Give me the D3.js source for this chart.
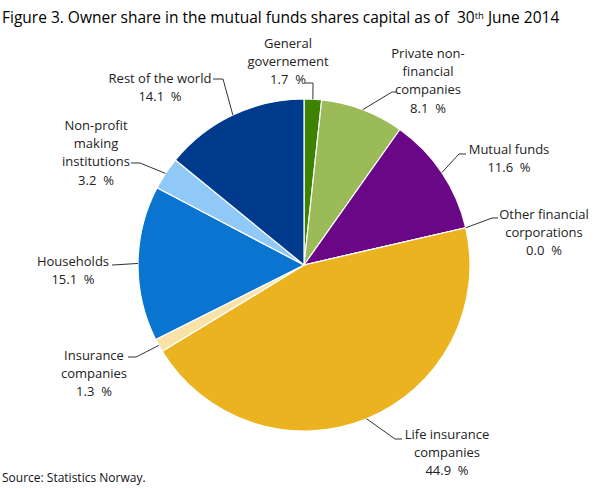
<!DOCTYPE html>
<html lang="en">
<head>
  <meta charset="UTF-8">
  <title>Figure 3</title>
  <style>
    body { margin: 0; background: #fff; }
    text { font-family: 'Open Sans', sans-serif; }
  </style>
</head>
<body>
  <svg id="svg" width="608" height="489"></svg>
  <script src="https://d3js.org/d3.v7.min.js"></script>
  <script>
    // owner sectors, clockwise from 12 o'clock
    const sectors = [
      'General governement', 'Private non-financial companies', 'Mutual funds',
      'Other financial corporations', 'Life insurance companies', 'Insurance companies',
      'Households', 'Non-profit making institutions', 'Rest of the world'
    ]
    const shares = [1.7, 8.1, 11.6, 0.0, 44.9, 1.3, 15.1, 3.2, 14.1]
    const labelLines = [
      ['General', 'governement'],
      ['Private non-', 'financial', 'companies'],
      ['Mutual funds'],
      ['Other financial', 'corporations'],
      ['Life insurance', 'companies'],
      ['Insurance', 'companies'],
      ['Households'],
      ['Non-profit', 'making', 'institutions'],
      ['Rest of the world']
    ]
    const colors = ['#3d8200', '#9bbb59', '#6a0787', '#ecb320', '#ecb320',
                    '#f8e2a8', '#0a74d1', '#90c8f8', '#003a8c']

    // label layout: elbow of leader line, end of horizontal stub, text centre, first line y
    const labelLayout = [
      { ex: 313, ey: 83, hx: 305, tx: 288, ty: 43 },
      { ex: 392, ey: 92, hx: 396, tx: 428, ty: 53 },
      { ex: 459, ey: 154, hx: 466, tx: 509, ty: 149 },
      { ex: 492, ey: 218, hx: 498, tx: 544, ty: 214 },
      { ex: 395, ey: 439, hx: 402, tx: 447, ty: 434 },
      { ex: 136, ey: 357, hx: 128, tx: 94, ty: 355 },
      { ex: 113, ey: 265, hx: 112, tx: 73, ty: 261 },
      { ex: 140, ey: 163, hx: 131, tx: 96, ty: 125 },
      { ex: 223, ey: 79, hx: 213, tx: 160, ty: 78 }
    ]

    const cx = 304, cy = 265, radius = 166
    const lineH = 18.3

    const svg = d3.select('#svg')

    svg.append('text')
      .attr('x', 2)
      .attr('y', 23)
      .style('font-size', '15.5px')
      .style('fill', '#000')
      .attr('xml:space', 'preserve')
      .style('white-space', 'pre')
      .text('Figure 3. Owner share in the mutual funds shares capital as of  30')
      .append('tspan')
      .attr('dy', -4)
      .style('font-size', '9.5px')
      .text('th')
      .select(function () { return this.parentNode })
      .append('tspan')
      .attr('dy', 4)
      .text(' June 2014')

    const data = sectors.map((s, i) => ({ sector: s, share: shares[i], lines: labelLines[i], i }))

    const pie = d3.pie()
      .value(d => d.share)
      .sort(null)

    const arc = d3.arc()
      .innerRadius(0)
      .outerRadius(radius)

    const arcs = pie(data)

    const g = svg.append('g')
      .attr('transform', `translate(${cx},${cy})`)

    g.selectAll('path')
      .data(arcs)
      .enter()
      .append('path')
      .attr('d', arc)
      .attr('fill', d => colors[d.data.i])
      .attr('stroke', '#fff')
      .attr('stroke-width', 1.2)
      .attr('stroke-linejoin', 'round')

    // leader lines start on the rim at each slice's mid angle
    svg.selectAll('path.leader')
      .data(arcs)
      .enter()
      .append('path')
      .attr('class', 'leader')
      .attr('d', d => {
        const a = (d.startAngle + d.endAngle) / 2
        const L = labelLayout[d.data.i]
        const x1 = cx + Math.sin(a) * radius
        const y1 = cy - Math.cos(a) * radius
        return d3.line()([[x1, y1], [L.ex, L.ey], [L.hx, L.ey]])
      })
      .attr('stroke', '#333')
      .attr('stroke-width', 1)
      .attr('fill', 'none')

    const labels = svg.selectAll('text.lab')
      .data(data)
      .enter()
      .append('text')
      .attr('class', 'lab')
      .attr('text-anchor', 'middle')
      .style('font-size', '13px')
      .style('fill', '#222')

    labels.each(function (d) {
      const L = labelLayout[d.i]
      const t = d3.select(this)
      const rows = d.lines.concat([`${d.share.toFixed(1)}  %`])
      rows.forEach((r, k) => {
        t.append('tspan')
          .attr('x', L.tx)
          .attr('y', L.ty + k * lineH + 4.7)
          .attr('xml:space', 'preserve')
          .style('white-space', 'pre')
          .text(r)
      })
    })

    svg.append('text')
      .attr('x', 2)
      .attr('y', 482)
      .style('font-size', '12px')
      .style('fill', '#111')
      .text('Source: Statistics Norway.')
  </script>
</body>
</html>
